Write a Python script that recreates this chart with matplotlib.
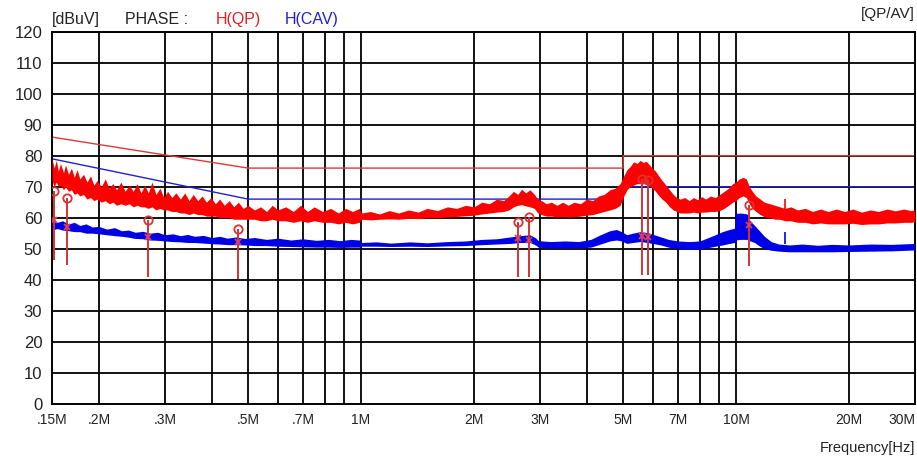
import matplotlib
matplotlib.use("Agg")
import matplotlib.pyplot as plt
from matplotlib.ticker import FixedLocator, NullLocator

# ---------------- datos ----------------
# limites (MHz, dBuV)
qp_lim_f = [0.15, 0.5, 5.0, 5.0, 30.0]
qp_lim_v = [86, 76, 76, 80, 80]
av_lim_f = [0.15, 0.5, 5.0, 5.0, 30.0]
av_lim_v = [79, 66, 66, 70, 70]

# banda roja (QP, barrido de pico): frecuencia, borde superior, borde inferior
red_f = [0.150, 0.152, 0.154, 0.156, 0.158, 0.161, 0.163, 0.166, 0.169, 0.172,
         0.175, 0.178, 0.182, 0.186, 0.190, 0.194, 0.198, 0.203, 0.208, 0.213,
         0.218, 0.223, 0.229, 0.235, 0.241, 0.247, 0.253, 0.259, 0.265, 0.271,
         0.277, 0.284, 0.291, 0.298, 0.305, 0.313, 0.321, 0.330, 0.339, 0.348,
         0.357, 0.367, 0.377, 0.387, 0.398, 0.409, 0.420, 0.432, 0.445, 0.458,
         0.471, 0.485, 0.500, 0.52, 0.54, 0.56, 0.58, 0.60, 0.63, 0.66,
         0.69, 0.72, 0.75, 0.79, 0.83, 0.87, 0.91, 0.95, 0.99,
         1.00, 1.06, 1.12, 1.19, 1.26, 1.34, 1.42, 1.50, 1.60, 1.70,
         1.80, 1.90, 2.00, 2.10, 2.20, 2.30, 2.40, 2.48, 2.55, 2.62,
         2.68, 2.75, 2.82, 2.90, 2.96, 3.03, 3.12, 3.22, 3.33, 3.45,
         3.57, 3.70, 3.85, 4.00, 4.15, 4.30, 4.45, 4.61, 4.76, 4.91,
         5.02, 5.12, 5.22, 5.33, 5.45, 5.55, 5.66, 5.76, 5.88, 5.98,
         6.10, 6.22, 6.35, 6.50, 6.65, 6.80, 6.95, 7.10, 7.30, 7.50,
         7.70, 7.90, 8.10, 8.30, 8.55, 8.80, 9.05, 9.30, 9.55, 9.80,
         10.0, 10.2, 10.45, 10.65, 10.85, 11.05, 11.3, 11.6, 11.9, 12.3,
         12.7, 13.1, 13.5, 14.0, 14.6, 15.3, 16.0, 16.8, 17.6, 18.5,
         19.5, 20.5, 21.6, 22.8, 24.0, 25.3, 26.6, 28.0, 29.2, 30.0]
red_top = [79, 76, 78.5, 75, 77.5, 74.5, 77, 74, 76, 73,
           75.5, 72.5, 74, 71.5, 73.5, 70.5, 72, 70, 72.5, 69.5,
           71, 69, 71.5, 68.5, 70.5, 68.5, 71, 68, 70.5, 68,
           71.5, 67.5, 69.5, 66.5, 68.5, 66.5, 68, 66, 68, 65.5,
           67.5, 65.5, 67, 65, 66.5, 64.5, 66, 64, 65.5, 63.5,
           65, 63, 64, 62.5, 63.5, 62, 64, 62.5, 63.5, 62,
           64, 62, 63.5, 62, 63, 61.5, 63, 62, 63,
           61.5, 62, 61.2, 62.3, 61.5, 62.5, 61.8, 63, 62.3, 63.5,
           63, 64, 63.5, 65, 64.5, 66, 65.5, 67, 68.5, 67.5,
           69.2, 68, 69, 67.5, 66, 65.5, 64.5, 65, 64, 65,
           64, 65, 64.5, 66, 65.5, 67, 67.5, 69, 69.5, 71,
           73.5, 75.5, 76.5, 78, 77.5, 78.5, 77.8, 78.2, 77, 76,
           75, 73.5, 72, 70.5, 69, 67.5, 66.5, 66, 66.5, 65.5,
           66.5, 65.8, 66.8, 66, 67, 66.5, 67.5, 68.5, 69.5, 71,
           71.5, 72.5, 73, 72.5, 70, 68.5, 67, 66, 65, 64.5,
           64, 63.5, 63, 63.5, 62.5, 63, 62, 62.8, 62, 62.8,
           62, 62.8, 61.8, 62.5, 62, 62.8, 62.2, 62.8, 62.3, 62.5]
red_bot = [72, 70, 71.5, 70, 70.5, 69, 70, 68.5, 69, 67.5,
           68, 67, 67.5, 66, 66.5, 65.5, 66, 65, 65.5, 64.5,
           65, 64, 64.5, 64, 64.5, 63.5, 64, 63.5, 63.5, 63,
           63.5, 62.5, 63, 62.5, 62.5, 62, 62, 61.5, 61.5, 61,
           61.5, 61, 61, 60.5, 60.5, 60.5, 60, 60, 60, 59.5,
           59.5, 59.5, 59.5, 59.5, 59, 59, 59.5, 59, 59, 58.5,
           59, 58.5, 59, 58.5, 58.5, 58, 58.5, 58, 58.5,
           59.5, 59.3, 59.5, 59.6, 59.5, 59.8, 59.7, 60, 60, 60.2,
           60.4, 60.6, 60.8, 61.2, 61.5, 61.8, 62, 62.5, 63.5, 64,
           64.2, 63.8, 63.5, 63, 61.5, 61, 60.5, 60.5, 60.3, 60.3,
           60.2, 60.3, 60.5, 60.8, 61, 61.5, 62, 62.5, 63, 64,
           67, 69, 70, 70.5, 71, 71, 71, 70.8, 70.3, 69.5,
           68.5, 67.2, 66, 65, 63.5, 62.5, 62, 61.5, 61.5, 61.5,
           61.8, 61.5, 61.8, 61.8, 62, 62, 62.3, 63, 64, 65,
           65.5, 66.5, 67, 66.5, 64.5, 63, 62, 61, 60.3, 60,
           59.5, 59.5, 59, 59, 58.5, 58.5, 58, 58.3, 58, 58,
           58, 58.2, 57.8, 58, 58, 58.3, 58.3, 58.5, 58.5, 58.7]

# banda azul (CAV)
blue_f = [0.150, 0.155, 0.160, 0.166, 0.172, 0.178, 0.185, 0.192, 0.200, 0.210,
          0.220, 0.230, 0.240, 0.250, 0.262, 0.274, 0.287, 0.300, 0.315, 0.330,
          0.345, 0.360, 0.380, 0.400, 0.420, 0.440, 0.465, 0.490, 0.52, 0.56,
          0.60, 0.65, 0.70, 0.76, 0.82, 0.88, 0.94, 0.99, 1.00, 1.10,
          1.20, 1.35, 1.50, 1.70, 1.90, 2.10, 2.30, 2.50, 2.66, 2.82,
          2.92, 2.97, 3.20, 3.50, 3.80, 4.10, 4.35, 4.61, 4.80, 4.95,
          5.12, 5.30, 5.55, 5.80, 6.05, 6.30, 6.60, 7.00, 7.50, 8.00,
          8.40, 8.80, 9.20, 9.60, 9.90, 9.96, 10.3, 10.7, 10.9, 11.2,
          11.5, 11.9, 12.4, 13.0, 13.9, 15.0, 16.5, 18.0, 20.0, 22.8,
          26.0, 30.0]
blue_top = [59.5, 58.5, 59, 58, 58.5, 57.5, 58, 57, 57.2, 56.3,
            56.8, 55.8, 56, 55.3, 55.6, 55, 55.3, 54.5, 54.8, 54.2,
            54.6, 54, 54.3, 53.6, 54, 53.4, 53.8, 53.3, 53.6, 53,
            53.4, 52.8, 53.2, 52.7, 53, 52.6, 53, 52.8, 52, 52.2,
            51.8, 52.2, 51.9, 52.3, 52.5, 53, 53.2, 53.8, 54.2, 54.5,
            53.5, 52.6, 52.3, 52.5, 52.3, 53, 54.5, 55.8, 56.2, 55.5,
            54.5, 55, 55.5, 55.2, 54.5, 53.8, 53, 52.5, 52.3, 52.5,
            53.5, 54.5, 55.5, 56.2, 56.6, 61.4, 61.5, 61.2, 59, 57.5,
            56, 54, 52.3, 51.5, 51.2, 51.5, 51.1, 51.4, 51.2, 51.5,
            51.4, 51.7]
blue_bot = [56, 56.5, 56, 55.8, 55.5, 55.5, 55, 55, 54.8, 54.5,
            54.2, 54, 53.7, 53.3, 53.2, 52.8, 52.7, 52.5, 52.3, 52.2,
            52, 52, 51.8, 51.6, 51.5, 51.3, 51.3, 51.2, 51, 51,
            50.8, 50.7, 50.6, 50.5, 50.5, 50.4, 50.5, 50.5, 50.8, 50.8,
            50.7, 50.8, 50.7, 50.9, 51, 51.3, 51.5, 51.7, 52, 52,
            51.2, 50.5, 50.2, 50.2, 50.3, 50.5, 51.5, 52.5, 52.8, 52.5,
            51.7, 52, 52.3, 52, 51.6, 51.2, 50.5, 50, 49.8, 49.8,
            50.3, 50.8, 51.2, 51.7, 52, 52.8, 53, 53, 52.5, 52,
            51, 50, 49.5, 49.2, 49, 49, 49, 49, 49.1, 49.2,
            49.3, 49.6]

# picos aislados
spike_f = [13.5]
spike_red = [66]
spike_blue = [55.5]

# marcadores
mk_f = [0.152, 0.164, 0.270, 0.469, 2.62, 2.81, 5.60, 5.82, 10.8]
mk_qp = [68.6, 66.5, 59.2, 56.4, 58.7, 60.3, 72.5, 72.0, 64.1]
mk_av = [59.2, 57.1, 53.7, 52.3, 53.4, 52.8, 54.0, 53.8, 57.6]
mk_low = [46.4, 44.9, 41.0, 40.1, 40.8, 40.8, 41.5, 41.5, 44.4]

# ejes
x_grid = [0.2, 0.3, 0.4, 0.5, 0.6, 0.7, 0.8, 0.9, 1, 2, 3, 4, 5, 6, 7, 8, 9, 10, 20, 30]
x_tick_pos = [0.15, 0.2, 0.3, 0.5, 0.7, 1, 2, 3, 5, 7, 10, 20, 30]
x_tick_lab = [".15M", ".2M", ".3M", ".5M", ".7M", "1M", "2M", "3M", "5M", "7M", "10M", "20M", "30M"]
y_ticks = list(range(0, 121, 10))

# ---------------- grafica ----------------
plt.rcParams["font.family"] = ["Liberation Sans", "DejaVu Sans"]

fig = plt.figure(figsize=(9.17, 4.62), dpi=100)
ax = fig.add_axes([0.0567, 0.1262, 0.9411, 0.8052])
ax.set_xscale("log")
ax.set_xlim(0.15, 30)
ax.set_ylim(0, 120)

for g in x_grid:
    ax.axvline(g, color="black", lw=1.3, zorder=1)
for v in y_ticks[1:]:
    ax.axhline(v, color="black", lw=1.3, zorder=1)

ax.plot(qp_lim_f, qp_lim_v, color="#d83a3a", lw=1.0, zorder=2)
ax.plot(av_lim_f, av_lim_v, color="#2020c8", lw=1.0, zorder=2)

ax.fill_between(red_f, red_bot, red_top, color="#ff0000", lw=0, zorder=3)
ax.fill_between(blue_f, blue_bot, blue_top, color="#0000e6", lw=0, zorder=3)
ax.vlines(spike_f, [v - 4 for v in spike_red], spike_red, color="#ff0000", lw=1.2, zorder=3)
ax.vlines(spike_f, [v - 4 for v in spike_blue], spike_blue, color="#0000e6", lw=1.2, zorder=3)

ax.vlines(mk_f, mk_low, mk_qp, color="#d03535", lw=1.4, zorder=4)
ax.plot(mk_f, mk_qp, "o", ms=6, mfc="none", mec="#e03030", mew=1.3, zorder=5)
ax.plot(mk_f, mk_av, "x", ms=5, color="#e04060", mew=1.3, zorder=5)

ax.xaxis.set_major_locator(FixedLocator(x_tick_pos))
ax.xaxis.set_minor_locator(NullLocator())
ax.set_xticklabels(x_tick_lab)
ax.set_yticks(y_ticks)
ax.tick_params(length=0, labelsize=10, colors="#222222", pad=7)
ax.tick_params(axis="y", labelsize=12, pad=7)
ax.get_xticklabels()[-1].set_horizontalalignment("right")
for s in ax.spines.values():
    s.set_color("black")
    s.set_linewidth(1.4)

tr = ax.transAxes
ax.text(0.0, 1.032, "[dBuV]", transform=tr, fontsize=11.5, color="#222222", va="center")
ax.text(0.0846, 1.032, "PHASE :", transform=tr, fontsize=11.5, color="#222222", va="center")
ax.text(0.190, 1.032, "H(QP)", transform=tr, fontsize=11.5, color="#e02020", va="center")
ax.text(0.270, 1.032, "H(CAV)", transform=tr, fontsize=11.5, color="#2020d0", va="center")
ax.text(1.0, 1.047, "[QP/AV]", transform=tr, fontsize=11, color="#222222", va="center", ha="right")
ax.text(1.0, -0.118, "Frequency[Hz]", transform=tr, fontsize=10.5, color="#222222", va="center", ha="right")

fig.savefig("out.png", dpi=100)
